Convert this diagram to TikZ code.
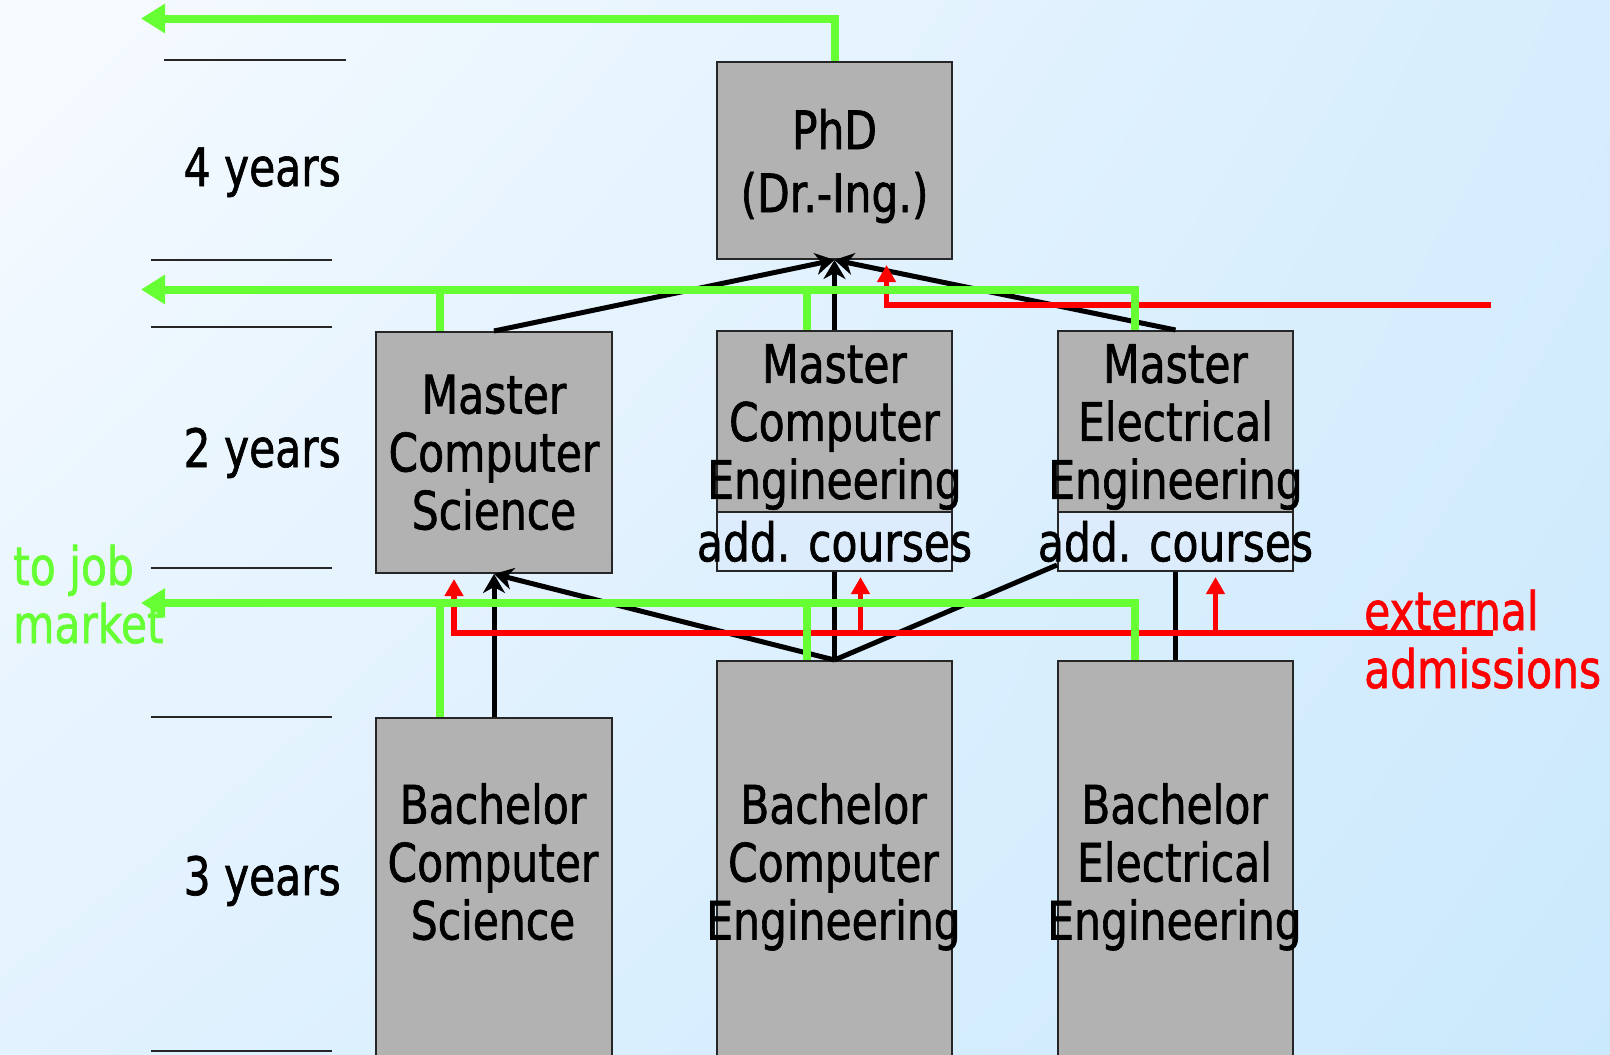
\documentclass[tikz,border=0pt]{standalone}
\usepackage{fontspec}
\setmainfont{DejaVu Sans}[FakeStretch=0.8, RawFeature={embolden=1.2}]
\usetikzlibrary{arrows.meta, calc, shadings}
\definecolor{boxgray}{RGB}{178, 178, 178}
\definecolor{addblue}{RGB}{221, 236, 252}
\definecolor{jobgreen}{RGB}{102, 255, 51}
\definecolor{admred}{RGB}{255, 0, 0}
\definecolor{bgtl}{RGB}{247, 251, 255}
\definecolor{bgtr}{RGB}{214, 237, 253}
\definecolor{bgbl}{RGB}{226, 242, 254}
\definecolor{bgbr}{RGB}{203, 233, 253}
\newcommand{\spill}[1]{\makebox[0pt]{#1}}

\begin{document}
\begin{tikzpicture}[x=1pt, y=-1pt,
  txt/.style={font=\fontsize{53}{58}\selectfont, align=center, inner sep=0pt},
  prog/.style={txt, draw=black!85, fill=boxgray, line width=2pt, anchor=north west, minimum width=235pt},
  addbox/.style={prog, fill=addblue},
  jobline/.style={draw=jobgreen, line width=8pt},
  tojob/.style={jobline, -{Triangle[length=24pt, width=28pt]}},
  admit/.style={draw=admred, line width=5.5pt, -{Triangle[length=17pt, width=18pt]}, shorten >=5pt},
  link/.style={draw=black, line width=5pt},
  flow/.style={link, -{Stealth[length=19pt, width=22pt, inset=6pt]}},
  rule/.style={draw=black!85, line width=2pt}]

  % Background
  \useasboundingbox (0, 0) rectangle (1610, 1055);
  \shade[upper left=bgtl, upper right=bgtr, lower left=bgbl, lower right=bgbr] (0, 0) rectangle (1610, 1055);

  % Year scale
  \draw[rule] (164, 59.5) -- (346, 59.5);
  \draw[rule] (151, 260) -- (332, 260);
  \draw[rule] (151, 326.5) -- (332, 326.5);
  \draw[rule] (151, 568) -- (332, 568);
  \draw[rule] (151, 717) -- (332, 717);
  \draw[rule] (151, 1051) -- (332, 1051);
  \node[txt, anchor=base east] (y4) at (341, 186) {4 years};
  \node[txt, anchor=base east] (y2) at (341, 467) {2 years};
  \node[txt, anchor=base east] (y3) at (341, 895) {3 years};

  % Programmes
  \node[prog, minimum height=197pt, text depth=0pt, font=\fontsize{53}{63}\selectfont] (phd) at (716, 61) {PhD\\(Dr.-Ing.)};
  \node[prog, minimum width=236pt, minimum height=241pt] (mcs) at (375, 331) {Master\\Computer\\Science};
  \node[addbox, minimum height=59pt] (mceadd) at (716, 511) {\spill{add. courses}};
  \node[addbox, minimum height=59pt] (meeadd) at (1057, 511) {\spill{add. courses}};
  \node[prog, minimum height=181pt, text depth=0pt] (mce) at (716, 330) {Master\\Computer\\\spill{Engineering}};
  \node[prog, minimum height=181pt, text depth=0pt] (mee) at (1057, 330) {Master\\Electrical\\\spill{Engineering}};
  \node[prog, minimum width=236pt, minimum height=400pt] (bcs) at (375, 717) {};
  \node[prog, minimum height=450pt] (bce) at (716, 660) {};
  \node[prog, minimum height=450pt] (bee) at (1057, 660) {};
  \node[txt, anchor=base] (bcs-txt) at (493, 939.5) {Bachelor\\Computer\\Science};
  \node[txt, anchor=base] (bce-txt) at (833.5, 939.5) {Bachelor\\Computer\\\spill{Engineering}};
  \node[txt, anchor=base] (bee-txt) at (1174.5, 939.5) {Bachelor\\Electrical\\\spill{Engineering}};

  % Study paths
  \draw[flow] (mcs.north) -- (phd.south);
  \draw[flow] (mce.north) -- (phd.south);
  \draw[flow] (mee.north) -- (phd.south);
  \draw[flow] (bcs.north) -- (mcs.south);
  \draw[flow] (bce.north) -- (mcs.south);
  \draw[link] (bce.north) -- (mceadd.south);
  \draw[link] (bce.north) -- ([yshift=7pt]meeadd.south west);
  \draw[link] (bee.north) -- (meeadd.south);

  % External admissions
  \coordinate (ext1) at (1491, 305);
  \coordinate (ext2) at (1493, 633);
  \draw[admit] (ext1) -| ([xshift=52pt]phd.south);
  \draw[admit] (ext2) -| ([xshift=-40pt]mcs.south);
  \draw[admit] ([xshift=26pt]mceadd.south |- ext2) -- ([xshift=26pt]mceadd.south);
  \draw[admit] ([xshift=40pt]meeadd.south |- ext2) -- ([xshift=40pt]meeadd.south);
  \node[txt, anchor=base west, align=left, text=admred] (ext) at (1364, 688) {external\\admissions};

  % To job market
  \coordinate (job1) at (141, 18.5);
  \coordinate (job2) at (141, 289.5);
  \coordinate (job3) at (141, 603);
  \draw[tojob] (phd.north) |- (job1);
  \draw[tojob] ([xshift=78pt]mee.north west) |- (job2);
  \draw[jobline] ([xshift=65pt]mcs.north west) -- ([xshift=65pt]mcs.north west |- job2);
  \draw[jobline] ([xshift=91pt]mce.north west) -- ([xshift=91pt]mce.north west |- job2);
  \draw[tojob] ([xshift=78pt]bee.north west) |- (job3);
  \draw[jobline] ([xshift=65pt]bcs.north west) -- ([xshift=65pt]bcs.north west |- job3);
  \draw[jobline] ([xshift=91pt]bce.north west) -- ([xshift=91pt]bce.north west |- job3);
  \node[txt, anchor=base west, align=left, text=jobgreen] (job) at (13, 643) {to job\\market};
\end{tikzpicture}
\end{document}
